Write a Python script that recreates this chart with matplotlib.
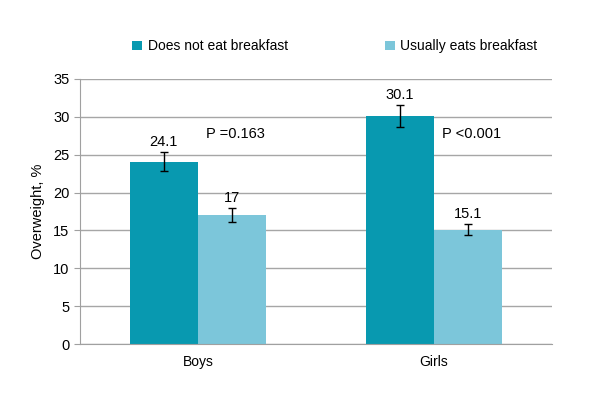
import numpy as np
import matplotlib
matplotlib.use("Agg")
import matplotlib.pyplot as plt

plt.rcParams["font.family"] = ["Liberation Sans", "DejaVu Sans"]

groups = ["Boys", "Girls"]
series = ["Does not eat breakfast", "Usually eats breakfast"]
no_breakfast = [24.1, 30.1]
usual_breakfast = [17, 15.1]
no_breakfast_err = [1.2, 1.5]
usual_breakfast_err = [0.9, 0.7]
p_values = ["P =0.163", "P <0.001"]

dark = "#0899b0"
light = "#7cc6da"

fig = plt.figure(figsize=(6, 4), dpi=100)
ax = fig.add_axes([0.133, 0.14, 0.787, 0.6625])

x = np.arange(len(groups))
w = 0.288
ax.bar(x - w / 2, no_breakfast, w, color=dark, label=series[0], zorder=2)
ax.bar(x + w / 2, usual_breakfast, w, color=light, label=series[1], zorder=2)
ax.errorbar(x - w / 2, no_breakfast, yerr=no_breakfast_err, fmt="none",
            ecolor="black", elinewidth=1, capsize=3, capthick=1, zorder=3)
ax.errorbar(x + w / 2, usual_breakfast, yerr=usual_breakfast_err, fmt="none",
            ecolor="black", elinewidth=1, capsize=3, capthick=1, zorder=3)

for xi, v, e in zip(x - w / 2, no_breakfast, no_breakfast_err):
    ax.text(xi, v + e + 0.4, f"{v:g}", ha="center", va="bottom", fontsize=10.5)
for xi, v, e in zip(x + w / 2, usual_breakfast, usual_breakfast_err):
    ax.text(xi, v + e + 0.4, f"{v:g}", ha="center", va="bottom", fontsize=10.5)
for xi, p in zip(x, p_values):
    ax.text(xi + 0.16, 27.7, p, ha="center", va="center", fontsize=10.5)

ax.set_xlim(-0.5, 1.5)
ax.set_ylim(0, 35)
ax.set_yticks(range(0, 36, 5))
ax.set_xticks(x)
ax.set_xticklabels(groups, fontsize=10)
ax.tick_params(axis="y", labelsize=10.5, length=4, color="#a0a0a0")
ax.tick_params(axis="x", length=0, pad=8)
ax.set_ylabel("Overweight, %", fontsize=10.5, labelpad=6)
ax.yaxis.grid(True, color="#a6a6a6", linewidth=1, zorder=0)
ax.set_axisbelow(True)
for s in ["top", "right"]:
    ax.spines[s].set_visible(False)
for s in ["left", "bottom"]:
    ax.spines[s].set_color("#a0a0a0")

ax.legend(loc="lower center", bbox_to_anchor=(0.54, 1.05), ncol=2, frameon=False,
          fontsize=10, handlelength=0.7, handleheight=0.7, columnspacing=7,
          handletextpad=0.4)

fig.savefig("out.png", dpi=100)
